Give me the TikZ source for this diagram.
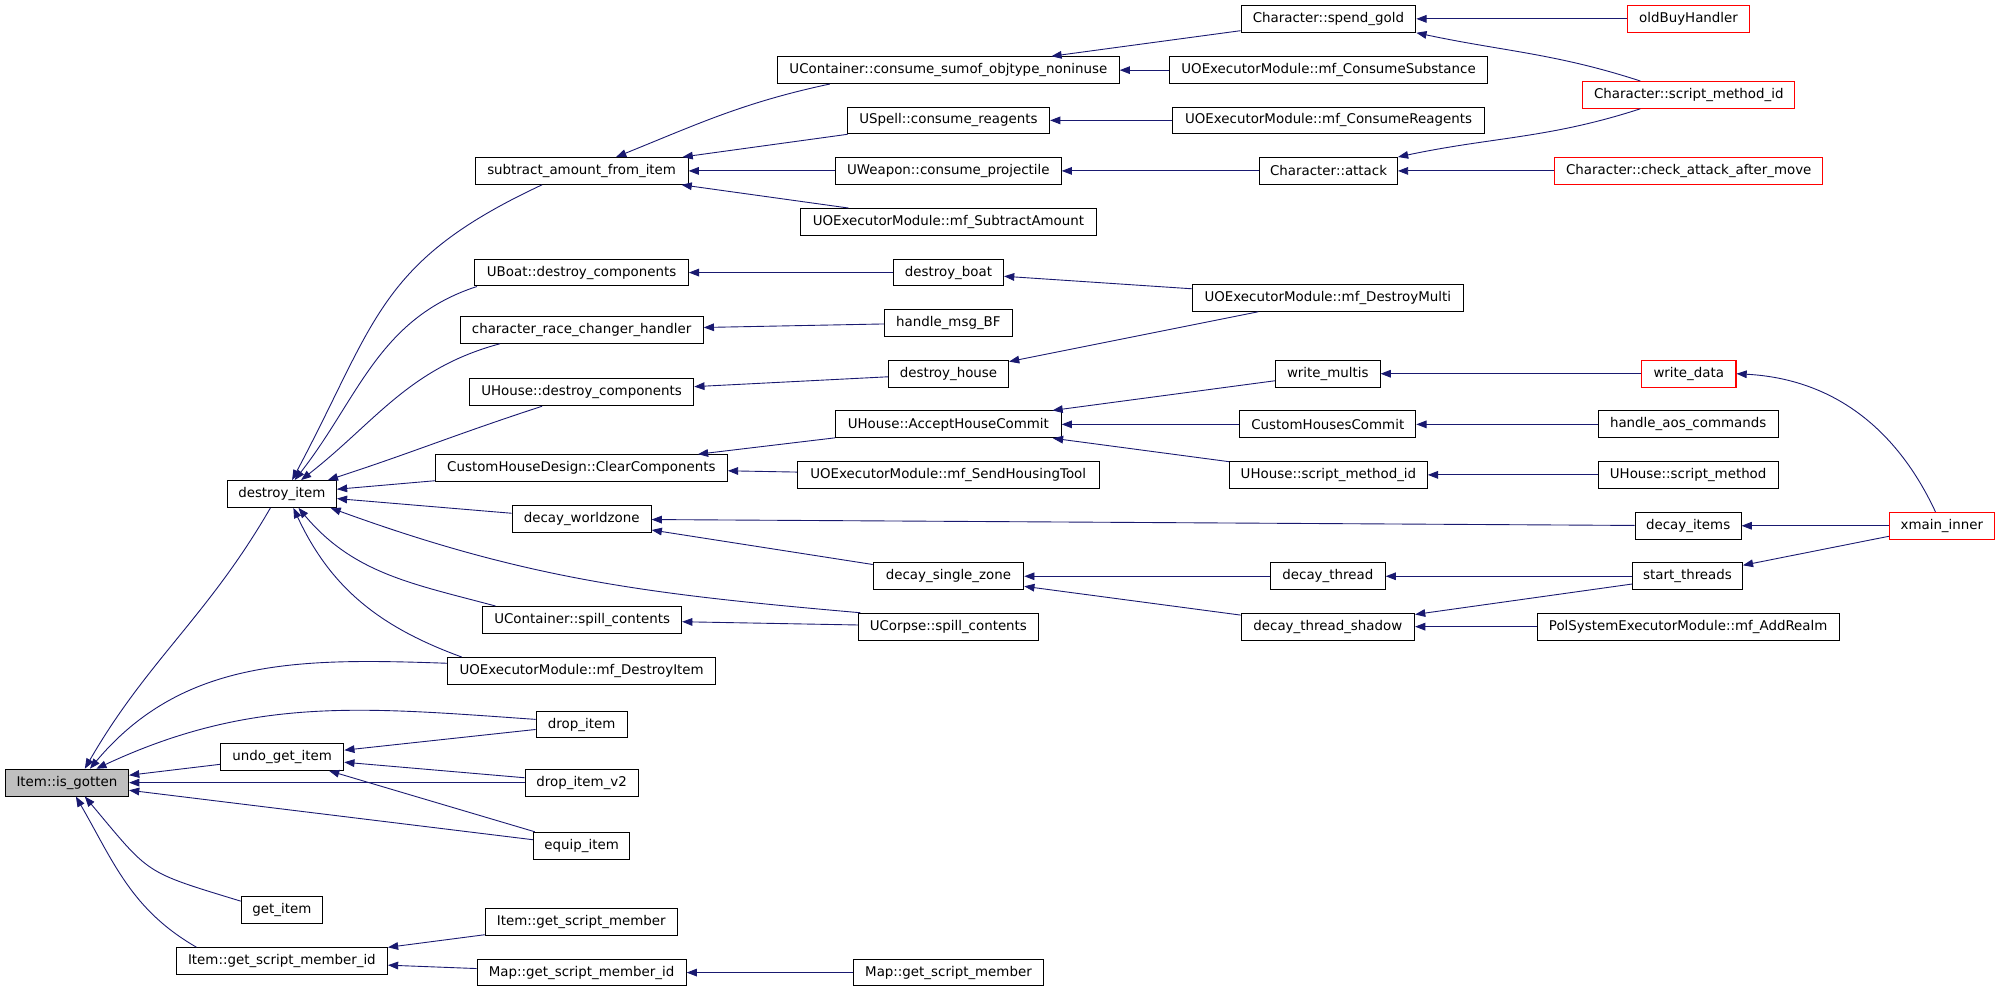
\documentclass[tikz,border=0pt]{standalone}
\usepackage{fontspec}
\setmainfont{DejaVu Sans}
\usepackage{xcolor}
\usepackage{tikz}
\usetikzlibrary{arrows.meta}
\definecolor{callblue}{RGB}{25,25,112}
\definecolor{rootgray}{RGB}{191,191,191}

\begin{document}
\begin{tikzpicture}[x=1pt,y=-1pt,
	fn/.style={draw=black,line width=0.8pt,minimum height=21pt,inner xsep=2pt,inner ysep=0pt,font=\fontsize{10.5}{12}\selectfont},
	fnext/.style={fn,draw=red},
	fnroot/.style={fn,fill=rootgray},
	call/.style={draw=callblue,line width=0.7pt,-{Triangle[length=8pt,width=6pt]}}]
	\fill[white] (0,0) rectangle (1568,775);
	\useasboundingbox (0,0) rectangle (1568,775);

	% the function itself
	\node[fnroot,minimum width=96.6] (isgot) at (52.5,613.6) {Item::is\_gotten};

	% callers
	\foreach \n/\x/\y/\w/\t in {
		destroy/221/387.3/85.5/destroy\_item,
		undoget/221.2/593.4/96.6/undo\_get\_item,
		getitem/221/713.5/63.7/get\_item,
		itemgsmid/221/753.5/165.5/Item::get\_script\_member\_id,
		subtract/456/134/167/subtract\_amount\_from\_item,
		uboat/456/213.7/167.3/UBoat::destroy\_components,
		race/456/258.6/190.7/character\_race\_changer\_handler,
		uhousedc/456/307.6/175.8/UHouse::destroy\_components,
		clearcomp/455.8/367/229/CustomHouseDesign::ClearComponents,
		worldzone/456/407/109/decay\_worldzone,
		ucontspill/456.4/486/156/UContainer::spill\_contents,
		mfdestroyitem/456/526/210/UOExecutorModule::mf\_DestroyItem,
		dropitem/456/568/71.4/drop\_item,
		dropitem2/456/613.6/88.5/drop\_item\_v2,
		equip/456/663/75.6/equip\_item,
		itemgsm/455.7/723/150.5/Item::get\_script\_member,
		mapgsmid/456/762.5/164/Map::get\_script\_member\_id,
		consume/743.5/55/268/UContainer::consume\_sumof\_objtype\_noninuse,
		spell/743.6/94.4/158.6/USpell::consume\_reagents,
		weapon/743.5/134/177/UWeapon::consume\_projectile,
		mfsubtract/743.6/174/232/UOExecutorModule::mf\_SubtractAmount,
		destroyboat/743.6/213.7/86.4/destroy\_boat,
		msgbf/743.5/253/100/handle\_msg\_BF,
		destroyhouse/743.6/293/94.2/destroy\_house,
		accept/743.5/332.7/177/UHouse::AcceptHouseCommit,
		sendhousing/743.4/372.3/236.7/UOExecutorModule::mf\_SendHousingTool,
		singlezone/743.6/451.8/118/decay\_single\_zone,
		ucorpse/743.5/491.3/141/UCorpse::spill\_contents,
		mapgsm/743.6/762.5/149.5/Map::get\_script\_member,
		spendgold/1041.5/14.8/137/Character::spend\_gold,
		mfconsumesub/1041.6/55/249.5/UOExecutorModule::mf\_ConsumeSubstance,
		mfconsumereag/1041.6/94.4/245/UOExecutorModule::mf\_ConsumeReagents,
		attack/1041.6/134/108/Character::attack,
		mfdestroymulti/1041/233.5/212/UOExecutorModule::mf\_DestroyMulti,
		writemultis/1041/293/82/write\_multis,
		chcommit/1041/332.7/138/CustomHousesCommit,
		uhsmid/1041.5/372.3/155/UHouse::script\_method\_id,
		decaythread/1041/451.8/90/decay\_thread,
		threadshadow/1041/491.3/136/decay\_thread\_shadow,
		aos/1323.5/332.7/141/handle\_aos\_commands,
		uhsm/1323.5/372.3/141/UHouse::script\_method,
		decayitems/1323.5/412.2/83/decay\_items,
		startthreads/1323/451.8/86/start\_threads,
		addrealm/1323.5/491.3/237/PolSystemExecutorModule::mf\_AddRealm}
		\node[fn,minimum width=\w] (\n) at (\x,\y) {\t};

	% callers not shown in full
	\foreach \n/\x/\y/\w/\t in {
		oldbuy/1323.8/14.8/96/oldBuyHandler,
		charsmid/1324/74.4/166/Character::script\_method\_id,
		checkattack/1324/134/210/Character::check\_attack\_after\_move,
		writedata/1324/293/74/write\_data,
		xmain/1522.4/412.2/82.4/xmain\_inner}
		\node[fnext,minimum width=\w] (\n) at (\x,\y) {\t};

	% straight calls
	\foreach \a/\b in {undoget/isgot,dropitem2/isgot,equip/isgot,
		dropitem/undoget,dropitem2/undoget,equip/undoget,
		itemgsm/itemgsmid,mapgsmid/itemgsmid,mapgsm/mapgsmid,
		clearcomp/destroy,worldzone/destroy,
		spell/subtract,weapon/subtract,mfsubtract/subtract,
		spendgold/consume,mfconsumesub/consume,mfconsumereag/spell,attack/weapon,
		oldbuy/spendgold,checkattack/attack,
		destroyboat/uboat,mfdestroymulti/destroyboat,mfdestroymulti/destroyhouse,
		msgbf/race,destroyhouse/uhousedc,
		accept/clearcomp,sendhousing/clearcomp,
		writemultis/accept,chcommit/accept,uhsmid/accept,
		writedata/writemultis,aos/chcommit,uhsm/uhsmid,
		decayitems/worldzone,xmain/decayitems,
		singlezone/worldzone,decaythread/singlezone,threadshadow/singlezone,
		startthreads/decaythread,startthreads/threadshadow,xmain/startthreads,
		addrealm/threadshadow,ucorpse/ucontspill}
		\draw[call] (\a) -- (\b);

	% bent calls
	\draw[call] ([xshift=-9pt]destroy.south) to[out=-120,in=60] ([xshift=14pt]isgot.north);
	\draw[call] ([yshift=6pt]mfdestroyitem.west) to[out=178,in=50] ([xshift=18pt]isgot.north);
	\draw[call] ([yshift=4pt]dropitem.west) to[out=176,in=25] ([xshift=23pt]isgot.north);
	\draw[call] ([yshift=7pt]getitem.west) to[out=163,in=-50,looseness=1.4] ([xshift=14pt]isgot.south);
	\draw[call] ([xshift=-67pt]itemgsmid.north) to[out=150,in=-60] ([xshift=7pt]isgot.south);

	\draw[call] ([xshift=-31pt]subtract.south) to[out=205,in=62,looseness=1.2] ([xshift=8pt]destroy.north);
	\draw[call] ([xshift=2pt]uboat.south west) to[out=198,in=52] ([xshift=10pt]destroy.north);
	\draw[call] ([xshift=-64pt]race.south) to[out=195,in=38] ([xshift=15pt]destroy.north);
	\draw[call] ([xshift=-31pt]uhousedc.south) to[out=198,in=18] ([xshift=36pt]destroy.north);
	\draw[call] ([xshift=2pt]ucorpse.north west) to[out=175,in=-20] ([xshift=-5pt]destroy.south east);
	\draw[call] ([xshift=-68pt]ucontspill.north) to[out=165,in=-50] ([xshift=13pt]destroy.south);
	\draw[call] ([xshift=-94pt]mfdestroyitem.north) to[out=160,in=-65] ([xshift=9pt]destroy.south);

	\draw[call] ([xshift=-93pt]consume.south) to[out=192,in=22] ([xshift=27pt]subtract.north);
	\draw[call] ([xshift=-38pt]charsmid.north) to[out=162,in=-12] (spendgold.south east);
	\draw[call] ([xshift=-38pt]charsmid.south) to[out=198,in=12] (attack.north east);
	\draw[call] ([xshift=-5pt]xmain.north) to[out=115,in=-3] (writedata.east);
\end{tikzpicture}
\end{document}
